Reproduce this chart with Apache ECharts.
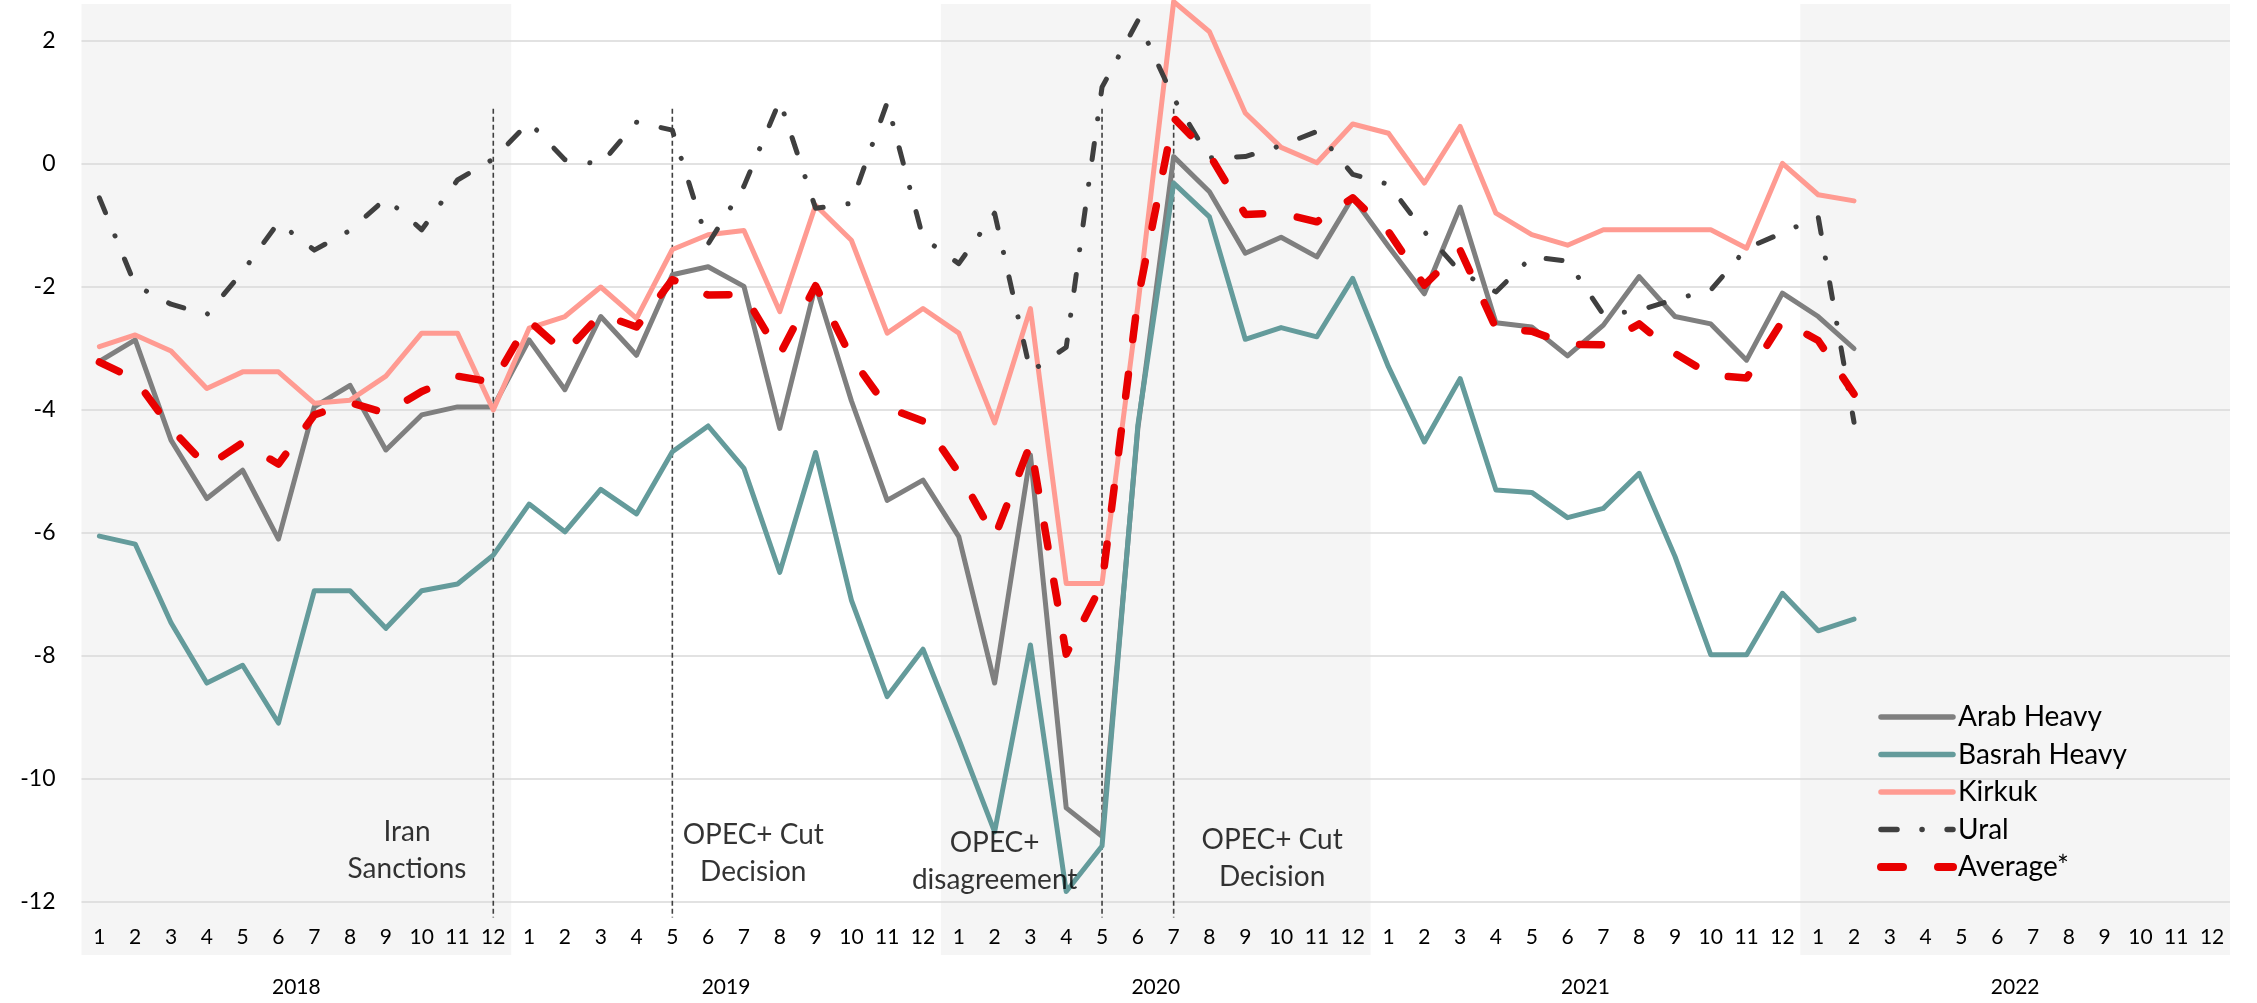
<!DOCTYPE html>
<html>
<head>
<meta charset="utf-8">
<script src="https://cdn.jsdelivr.net/npm/echarts/dist/echarts.min.js"></script>
<style>
html,body{margin:0;padding:0;background:#fff;}
#c{width:2257px;height:1003px;}
</style>
</head>
<body>
<div id="c"></div>
<script>
// ---------------- data ----------------
const years = ['2018', '2019', '2020', '2021', '2022'];
const monthNums = ['1','2','3','4','5','6','7','8','9','10','11','12'];
const seriesNames = ['Arab Heavy', 'Basrah Heavy', 'Kirkuk', 'Ural', 'Average*'];

const arabHeavy = [
  -3.21, -2.86, -4.49, -5.44, -4.98, -6.10, -3.95, -3.60, -4.65, -4.08, -3.95, -3.95,
  -2.86, -3.67, -2.48, -3.11, -1.80, -1.67, -1.99, -4.30, -1.97, -3.85, -5.47, -5.14,
  -6.06, -8.44, -4.73, -10.47, -10.93, -4.30, 0.12, -0.45, -1.45, -1.19, -1.51, -0.54,
  -1.34, -2.11, -0.70, -2.58, -2.65, -3.12, -2.62, -1.83, -2.48, -2.60, -3.19, -2.10,
  -2.48, -3.00
];
const basrahHeavy = [
  -6.05, -6.18, -7.46, -8.44, -8.15, -9.09, -6.94, -6.94, -7.55, -6.94, -6.83, -6.36,
  -5.53, -5.98, -5.29, -5.69, -4.68, -4.26, -4.95, -6.64, -4.69, -7.09, -8.66, -7.89,
  -9.35, -10.86, -7.82, -11.83, -11.09, -4.25, -0.31, -0.86, -2.85, -2.66, -2.81, -1.86,
  -3.30, -4.52, -3.49, -5.30, -5.34, -5.75, -5.60, -5.03, -6.38, -7.98, -7.98, -6.98,
  -7.59, -7.40
];
const kirkuk = [
  -2.97, -2.78, -3.04, -3.65, -3.38, -3.38, -3.89, -3.84, -3.45, -2.75, -2.75, -4.00,
  -2.67, -2.48, -2.00, -2.51, -1.39, -1.15, -1.08, -2.40, -0.67, -1.24, -2.75, -2.35,
  -2.75, -4.21, -2.35, -6.82, -6.82, -2.30, 2.64, 2.15, 0.83, 0.27, 0.02, 0.65,
  0.50, -0.31, 0.61, -0.80, -1.15, -1.32, -1.07, -1.07, -1.07, -1.07, -1.37, 0.01,
  -0.50, -0.60
];
const ural = [
  -0.55, -1.97, -2.28, -2.45, -1.75, -0.95, -1.40, -1.08, -0.56, -1.07, -0.26, 0.08,
  0.68, 0.07, 0.00, 0.68, 0.55, -1.30, -0.36, 1.03, -0.72, -0.64, 1.00, -1.20,
  -1.62, -0.80, -3.38, -2.98, 1.25, 2.33, 1.07, 0.10, 0.12, 0.30, 0.53, -0.17,
  -0.33, -1.10, -1.75, -2.08, -1.51, -1.58, -2.45, -2.38, -2.20, -2.05, -1.37, -1.12,
  -0.86, -4.20
];
const average = [
  -3.22, -3.50, -4.30, -4.92, -4.53, -4.88, -4.08, -3.88, -4.05, -3.70, -3.45, -3.55,
  -2.55, -3.07, -2.44, -2.65, -1.88, -2.13, -2.12, -3.10, -1.98, -3.15, -3.96, -4.18,
  -5.02, -6.07, -4.55, -7.97, -6.83, -2.20, 0.75, 0.15, -0.82, -0.80, -0.94, -0.55,
  -1.10, -1.97, -1.40, -2.67, -2.72, -2.93, -2.94, -2.60, -3.08, -3.43, -3.48, -2.55,
  -2.87, -3.74
];

const shadedYears = ['2018', '2020', '2022'];
const eventMonths = ['2018-12', '2019-5', '2020-5', '2020-7'];
const annotations = [
  { text: 'Iran\nSanctions', month: 9.09, value: -11.17 },
  { text: 'OPEC+ Cut\nDecision', month: 18.76, value: -11.21 },
  { text: 'OPEC+\ndisagreement', month: 25.5, value: -11.34 },
  { text: 'OPEC+ Cut\nDecision', month: 33.25, value: -11.3 }
];
const yMin = -12, yMax = 2, yInterval = 2;

// ---------------- build ----------------
const categories = [];
years.forEach(y => monthNums.forEach(m => categories.push(y + '-' + m)));
const nMonths = categories.length;

const FONT = 'Lato, "Noto Sans", "DejaVu Sans", sans-serif';
const TXT = '#000000';
const gridL = 81.5, gridR = 27;

const seriesStyles = {
  'Arab Heavy':   { color: '#7f7f7f', width: 5, type: 'solid' },
  'Basrah Heavy': { color: '#649b9b', width: 5, type: 'solid' },
  'Kirkuk':       { color: '#ff9b92', width: 5, type: 'solid' },
  'Ural':         { color: '#3f3f3f', width: 5, type: [16, 25, 0.1, 25] },
  'Average*':     { color: '#e80000', width: 7.5, type: [22, 35] }
};
const seriesData = {
  'Arab Heavy': arabHeavy, 'Basrah Heavy': basrahHeavy, 'Kirkuk': kirkuk,
  'Ural': ural, 'Average*': average
};

const lineSeries = seriesNames.map((name, idx) => {
  const st = seriesStyles[name];
  return {
    type: 'line', name: name, xAxisIndex: 0, yAxisIndex: 0,
    data: seriesData[name], symbol: 'none', showSymbol: false, smooth: false,
    clip: false, z: 3 + idx,
    lineStyle: { color: st.color, width: st.width, type: st.type, cap: 'round', join: 'round' },
    itemStyle: { color: st.color },
    emphasis: { disabled: true }
  };
});

const chart = echarts.init(document.getElementById('c'), null, { renderer: 'canvas' });
const option = {
  backgroundColor: '#ffffff',
  animation: false,
  textStyle: { fontFamily: FONT },
  grid: [
    { left: gridL, right: gridR, top: 41, bottom: 101 },
    { left: gridL, right: gridR, top: 4, bottom: 48 }
  ],
  xAxis: [
    {
      type: 'category', gridIndex: 0, data: categories, boundaryGap: true,
      axisLine: { show: false }, axisTick: { show: false }, splitLine: { show: false },
      axisLabel: {
        interval: 0, margin: 24, fontSize: 21, lineHeight: 22, color: TXT, fontFamily: FONT,
        formatter: v => v.split('-')[1]
      }
    },
    { type: 'value', gridIndex: 1, min: 0, max: nMonths, show: false },
    {
      type: 'category', gridIndex: 0, position: 'bottom', data: years, boundaryGap: true,
      axisLine: { show: false }, axisTick: { show: false }, splitLine: { show: false },
      axisLabel: { margin: 74, fontSize: 21, lineHeight: 22, color: TXT, fontFamily: FONT }
    },
    { type: 'value', gridIndex: 0, min: 0, max: nMonths, show: false }
  ],
  yAxis: [
    {
      type: 'value', gridIndex: 0, min: yMin, max: yMax, interval: yInterval,
      axisLine: { show: false }, axisTick: { show: false },
      axisLabel: { margin: 26, fontSize: 23, color: TXT, fontFamily: FONT },
      splitLine: { show: true, lineStyle: { color: '#d9d9d9', width: 1.5 } }
    },
    { type: 'value', gridIndex: 1, min: 0, max: 1, show: false }
  ],
  legend: {
    data: seriesNames.map(n => ({
      name: n,
      lineStyle: { width: seriesStyles[n].width + 0.5, type: seriesStyles[n].type, cap: 'round' }
    })),
    orient: 'vertical', left: 1877, top: 702, padding: 0,
    itemWidth: 72, itemHeight: 14, itemGap: 7.5,
    itemStyle: { opacity: 0 },
    textStyle: { fontSize: 28, lineHeight: 30, color: TXT, fontFamily: FONT },
    selectedMode: false
  },
  series: [
    {
      type: 'custom', name: 'shade', xAxisIndex: 1, yAxisIndex: 1, silent: true, z: -1,
      data: shadedYears.map(y => {
        const i = years.indexOf(y);
        return [i * monthNums.length, (i + 1) * monthNums.length];
      }),
      renderItem: (params, api) => {
        const p0 = api.coord([api.value(0), 1]);
        const p1 = api.coord([api.value(1), 0]);
        return {
          type: 'rect',
          shape: { x: p0[0], y: p0[1], width: p1[0] - p0[0], height: p1[1] - p0[1] },
          style: { fill: '#f5f5f5' }
        };
      }
    },
    {
      type: 'custom', name: 'events', xAxisIndex: 0, yAxisIndex: 0, silent: true, z: 2,
      clip: false,
      data: eventMonths.map(m => [categories.indexOf(m), 0.9, -12.25]),
      encode: { x: 0, y: [1, 2] },
      renderItem: (params, api) => {
        const a = api.coord([api.value(0), api.value(1)]);
        const b = api.coord([api.value(0), api.value(2)]);
        return {
          type: 'line',
          shape: { x1: a[0], y1: a[1], x2: b[0], y2: b[1] },
          style: { stroke: '#404040', lineWidth: 1.6, lineDash: [5, 3], fill: null }
        };
      }
    },
    ...lineSeries,
    {
      type: 'scatter', name: 'notes', xAxisIndex: 3, yAxisIndex: 0, silent: true,
      symbolSize: 1, itemStyle: { color: 'transparent' }, z: 10, clip: false,
      data: annotations.map(a => ({ value: [a.month, a.value], name: a.text })),
      label: {
        show: true, position: 'inside', formatter: p => p.name,
        fontSize: 28, lineHeight: 37, color: TXT, fontFamily: FONT,
        align: 'center', verticalAlign: 'middle'
      }
    }
  ]
};
chart.setOption(option);
</script>
</body>
</html>
